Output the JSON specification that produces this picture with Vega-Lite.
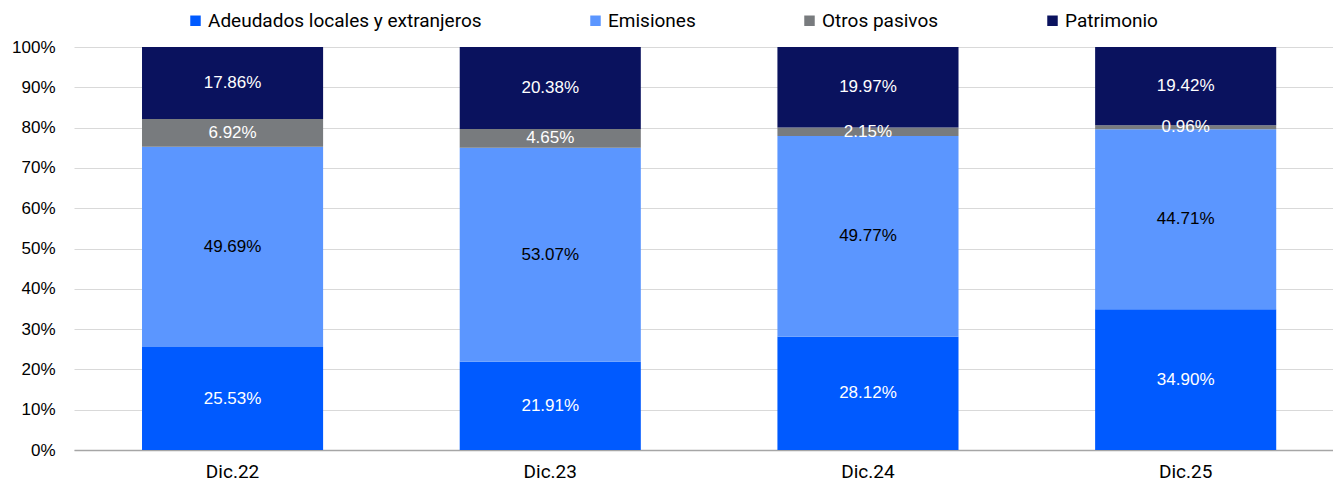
{
  "$schema": "https://vega.github.io/schema/vega-lite/v6.json",
  "width": 1259,
  "height": 403,
  "autosize": {"type": "none"},
  "padding": {"left": 74, "top": 47, "right": 0, "bottom": 32},
  "background": "white",
  "config": {
    "view": {"stroke": null},
    "font": "Liberation Sans"
  },
  "data": {
    "values": [
      {"cat": "Dic.22", "serie": "Adeudados locales y extranjeros", "v": 25.53},
      {"cat": "Dic.22", "serie": "Emisiones", "v": 49.69},
      {"cat": "Dic.22", "serie": "Otros pasivos", "v": 6.92},
      {"cat": "Dic.22", "serie": "Patrimonio", "v": 17.86},
      {"cat": "Dic.23", "serie": "Adeudados locales y extranjeros", "v": 21.91},
      {"cat": "Dic.23", "serie": "Emisiones", "v": 53.07},
      {"cat": "Dic.23", "serie": "Otros pasivos", "v": 4.65},
      {"cat": "Dic.23", "serie": "Patrimonio", "v": 20.38},
      {"cat": "Dic.24", "serie": "Adeudados locales y extranjeros", "v": 28.12},
      {"cat": "Dic.24", "serie": "Emisiones", "v": 49.77},
      {"cat": "Dic.24", "serie": "Otros pasivos", "v": 2.15},
      {"cat": "Dic.24", "serie": "Patrimonio", "v": 19.97},
      {"cat": "Dic.25", "serie": "Adeudados locales y extranjeros", "v": 34.90},
      {"cat": "Dic.25", "serie": "Emisiones", "v": 44.71},
      {"cat": "Dic.25", "serie": "Otros pasivos", "v": 0.96},
      {"cat": "Dic.25", "serie": "Patrimonio", "v": 19.42}
    ]
  },
  "transform": [
    {"calculate": "indexof(['Adeudados locales y extranjeros','Emisiones','Otros pasivos','Patrimonio'], datum.serie)", "as": "ord"},
    {"stack": "v", "groupby": ["cat"], "sort": [{"field": "ord", "order": "ascending"}], "as": ["v0", "v1"]},
    {"calculate": "(datum.v0 + datum.v1) / 2", "as": "mid"},
    {"calculate": "format(datum.v, '.2f') + '%'", "as": "lbl"}
  ],
  "encoding": {
    "x": {
      "field": "cat", "type": "nominal", "title": null,
      "scale": {"paddingInner": 0.43, "paddingOuter": 0.1964, "align": 0.545},
      "axis": {
        "labelAngle": 0, "ticks": false, "domainColor": "#a6a6a6", "domainWidth": 1.5,
        "labelFont": "Roboto", "labelFontSize": 19, "labelColor": "#000000", "labelPadding": 12
      }
    }
  },
  "layer": [
    {
      "mark": {"type": "bar"},
      "encoding": {
        "y": {
          "field": "v0", "type": "quantitative", "title": null,
          "scale": {"domain": [0, 100], "nice": false},
          "axis": {
            "values": [0, 10, 20, 30, 40, 50, 60, 70, 80, 90, 100],
            "labelExpr": "datum.value + '%'",
            "domain": false, "ticks": false, "gridColor": "#d9d9d9", "gridWidth": 1,
            "labelFontSize": 17, "labelColor": "#000000", "labelPadding": 19
          }
        },
        "y2": {"field": "v1"},
        "color": {
          "field": "serie", "type": "nominal",
          "scale": {
            "domain": ["Adeudados locales y extranjeros", "Emisiones", "Otros pasivos", "Patrimonio"],
            "range": ["#005AFF", "#5B96FF", "#787B7E", "#0A125E"]
          },
          "legend": {
            "title": null, "orient": "none", "direction": "horizontal",
            "legendX": 112, "legendY": -36,
            "symbolType": "square", "symbolSize": 110, "symbolStrokeWidth": 0,
            "labelFont": "Roboto", "labelFontSize": 19, "labelColor": "#000000",
            "labelOffset": 3, "columnPadding": 104, "labelLimit": 400
          }
        }
      }
    },
    {
      "mark": {"type": "text", "fontSize": 17, "baseline": "middle", "align": "center"},
      "encoding": {
        "y": {"field": "mid", "type": "quantitative"},
        "text": {"field": "lbl"},
        "color": {
          "condition": {"test": "datum.serie === 'Emisiones'", "value": "#000000"},
          "value": "#ffffff"
        }
      }
    }
  ]
}
